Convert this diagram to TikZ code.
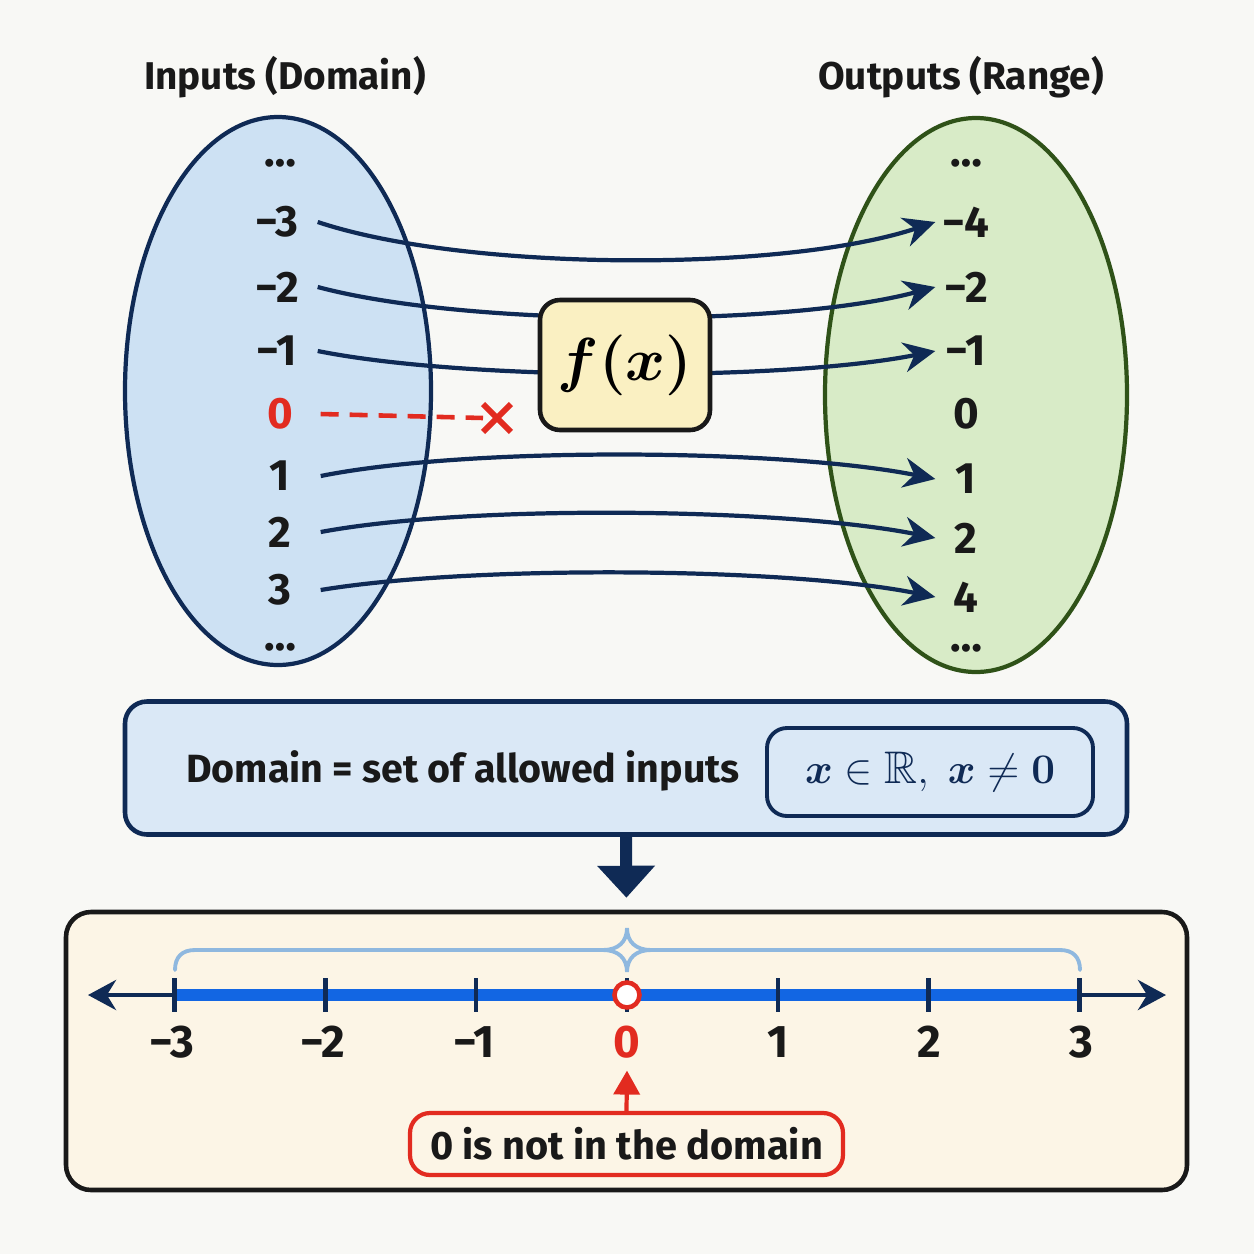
\documentclass[tikz,border=0pt]{standalone}
\usepackage[no-math]{fontspec}
\setmainfont{Fira Sans}
\usepackage{amsmath,amssymb}
\usetikzlibrary{shapes.geometric,shapes.misc,arrows.meta,positioning}

\definecolor{paper}{HTML}{F8F8F5}
\definecolor{navy}{HTML}{0F2A55}
\definecolor{domfill}{HTML}{CDE1F3}
\definecolor{rangefill}{HTML}{D8EBC7}
\definecolor{rangeline}{HTML}{2F5218}
\definecolor{boxyellow}{HTML}{FAF0C2}
\definecolor{panelblue}{HTML}{DAE8F6}
\definecolor{panelcream}{HTML}{FCF5E6}
\definecolor{linered}{HTML}{E22B20}
\definecolor{lineblue}{HTML}{1266E3}
\definecolor{bracelight}{HTML}{8FB8DF}

\tikzset{
  titletext/.style={font=\fontsize{11}{13}\selectfont\bfseries, text=black!90},
  inlabel/.style={font=\fontsize{12.5}{14}\selectfont\bfseries, text=black!90, minimum width=8mm, inner sep=0pt},
  outlabel/.style={font=\fontsize{12.5}{14}\selectfont\bfseries, text=black!90, minimum width=6mm, inner sep=0pt},
  dotslabel/.style={font=\fontsize{12.5}{14}\selectfont\bfseries, text=black!90, inner sep=0pt, anchor=base},
  maparrow/.style={draw=navy, line width=1.2pt, -{Stealth[length=9pt,width=8.5pt]}},
  numlabel/.style={font=\fontsize{13}{15}\selectfont\bfseries, text=black!90},
}

\begin{document}
\begin{tikzpicture}[x=0.1mm, y=-0.1mm]
\def\tickgap{150.8}

\fill[paper] (0,0) rectangle (1254,1254);
\useasboundingbox (0,0) rectangle (1254,1254);

% the two sets
\node[titletext] (intitle) at (285,77) {Inputs (Domain)};
\node[titletext] (outtitle) at (961,77) {Outputs (Range)};

\node[ellipse, draw=navy, fill=domfill, line width=1.2pt, minimum width=30.6mm, minimum height=54.8mm] (domset) at (278,391) {};
\node[ellipse, draw=rangeline, fill=rangefill, line width=1.2pt, minimum width=30.2mm, minimum height=55.4mm] (rangeset) at (976,395) {};

\node[dotslabel] (xtop) at (280,166) {…};
\node[inlabel] (xm3) at (277,222) {−3};
\node[inlabel] (xm2) at (277,287) {−2};
\node[inlabel] (xm1) at (277,351) {−1};
\node[inlabel, text=linered] (x0) at (280,414) {0};
\node[inlabel] (x1) at (280,476) {1};
\node[inlabel] (x2) at (280,532) {2};
\node[inlabel] (x3) at (280,590) {3};
\node[dotslabel] (xbot) at (280,650) {…};

\node[dotslabel] (ytop) at (966,166) {…};
\node[outlabel] (ym4) at (966,222) {−4};
\node[outlabel] (ym2) at (966,287) {−2};
\node[outlabel] (ym1) at (966,351) {−1};
\node[outlabel] (y0) at (966,414) {0};
\node[outlabel] (y1) at (966,479) {1};
\node[outlabel] (y2) at (966,538) {2};
\node[outlabel] (y4) at (966,597) {4};
\node[dotslabel] (ybot) at (966,651) {…};

% the mapping
\draw[maparrow] (xm3.east) .. controls +(150,50) and +(-150,50) .. (ym4.west);
\draw[maparrow] (xm2.east) .. controls +(150,40) and +(-150,40) .. (ym2.west);
\draw[maparrow] (xm1.east) .. controls +(150,30) and +(-150,30) .. (ym1.west);
\draw[maparrow] (x1.east) .. controls +(150,-30) and +(-150,-30) .. (y1.west);
\draw[maparrow] (x2.east) .. controls +(150,-28) and +(-150,-30) .. (y2.west);
\draw[maparrow] (x3.east) .. controls +(150,-25) and +(-150,-30) .. (y4.west);

\node[rectangle, rounded corners=2mm, draw=black!90, fill=boxyellow, line width=1.3pt, minimum width=17mm, minimum height=13mm, font=\fontsize{18}{20}\selectfont] (fx) at (625,365) {$\boldsymbol{f(x)}$};

\node[cross out, draw=linered, line width=1.7pt, minimum size=2.2mm, inner sep=0pt] (nogo) at (497,418) {};
\draw[linered, line width=1.3pt, dash pattern=on 1.8mm off 1.1mm] (x0.east) -- (nogo.west);

% definition panel
\node[rectangle, rounded corners=2.2mm, draw=navy, fill=panelblue, line width=1.3pt, minimum width=100.2mm, minimum height=13.3mm] (rule) at (626,768) {};
\node[font=\fontsize{11.2}{13}\selectfont\bfseries, text=black!90] (ruletext) at (463,771) {Domain = set of allowed inputs};
\node[rectangle, rounded corners=2mm, draw=navy, fill=panelblue, line width=1.1pt, minimum width=32.6mm, minimum height=8.8mm, text=navy, font=\fontsize{13}{15}\selectfont] (ruleset) at (930,772) {$\boldsymbol{x}\in\mathbb{R},\ \boldsymbol{x}\neq \boldsymbol{0}$};

% number line panel
\node[rectangle, rounded corners=2.5mm, draw=black!90, fill=panelcream, line width=1.3pt, minimum width=112.1mm, minimum height=27.8mm] (linebox) at (626.5,1051) {};
\draw[navy, line width=1.2mm, -{Triangle[length=3.2mm,width=5.6mm]}, shorten >=1.2mm] (rule.south) -- (linebox.north);

\coordinate (axl) at (88,995);
\coordinate (axr) at (1166,995);
\foreach \i in {-3,...,3}
  \coordinate (tk\i) at ({627+\i*\tickgap},995);

\draw[bracelight, line width=1.1pt, line cap=round]
  (175,970) .. controls (175,957) and (182,950) .. (195,950) -- (603,950)
  .. controls (618,950) and (627,942) .. (627,928)
  .. controls (627,942) and (636,950) .. (651,950) -- (1060,950)
  .. controls (1073,950) and (1080,957) .. (1080,970);
\draw[bracelight, line width=1.1pt, line cap=round]
  (603,950) .. controls (618,950) and (627,958) .. (627,972)
  .. controls (627,958) and (636,950) .. (651,950);

\draw[navy, line width=1.4pt, {Stealth[length=2.8mm,width=3mm]}-{Stealth[length=2.8mm,width=3mm]}] (axl) -- (axr);
\draw[lineblue, line width=1.2mm] (tk-3) -- (tk3);
\foreach \i in {-3,...,3}
  \draw[navy, line width=1.2pt] ([yshift=1.7mm]tk\i) -- ([yshift=-1.7mm]tk\i);
\node[circle, draw=linered, fill=white, line width=1.3pt, minimum size=2.5mm, inner sep=0pt] (hole) at (tk0) {};

\node[numlabel] (nm3) at (172,1042) {−3};
\node[numlabel] (nm2) at (323,1042) {−2};
\node[numlabel] (nm1) at (474,1042) {−1};
\node[numlabel, text=linered] (n0) at (627,1042) {0};
\node[numlabel] (n1) at (778,1042) {1};
\node[numlabel] (n2) at (929,1042) {2};
\node[numlabel] (n3) at (1081,1042) {3};

\node[rectangle, rounded corners=2mm, draw=linered, fill=panelcream, line width=1.2pt, minimum width=43.3mm, minimum height=6.2mm, font=\fontsize{11.3}{13}\selectfont\bfseries, text=black!90] (note) at (626.5,1144) {0 is not in the domain};
\draw[linered, line width=1.2pt, -{Triangle[length=2.4mm,width=2.6mm]}] (note.north) -- (n0.south);
\end{tikzpicture}
\end{document}
